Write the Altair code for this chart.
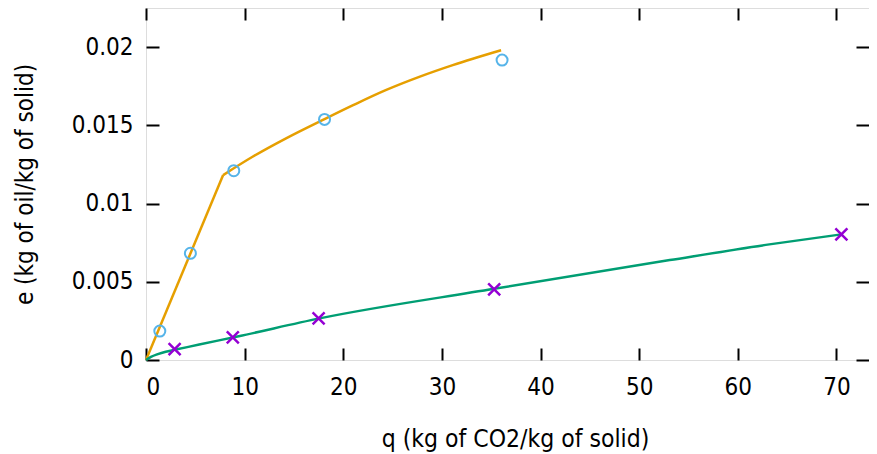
import altair as alt
import pandas as pd

# measured points (blue circles)
q_circ = [1.4, 4.5, 8.9, 18.1, 36.1]
e_circ = [0.00185, 0.00682, 0.0121, 0.01538, 0.01917]
# measured points (purple crosses)
q_cross = [2.9, 8.8, 17.5, 35.3, 70.5]
e_cross = [0.0007, 0.00145, 0.00266, 0.00452, 0.00803]
# model curve (orange): straight part, then curved part
q_orange_lin = [0, 7.82]
e_orange_lin = [0, 0.01182]
q_orange = [7.82, 10.8, 14.2, 18.1, 21.0, 24.3, 27.7, 31.1, 36.0]
e_orange = [0.01182, 0.01299, 0.01417, 0.0154, 0.01629, 0.01725, 0.0181, 0.01885, 0.0198]
# model curve (green)
q_green = [0, 0.5, 1.2, 2.0, 2.9, 5.4, 9.4, 17.6, 35.3, 53.1, 63.2, 70.5]
e_green = [0, 0.0002, 0.00038, 0.00053, 0.00065, 0.00099, 0.00152, 0.00266, 0.00455, 0.00639, 0.00739, 0.00803]

x_ticks = [0, 10, 20, 30, 40, 50, 60, 70]
y_ticks = [0, 0.005, 0.01, 0.015, 0.02]

FONT = "DejaVu Sans Condensed, DejaVu Sans"
FS = 24

xs = alt.Scale(domain=[0, 73.3], nice=False, zero=False)
ys = alt.Scale(domain=[0, 0.0225], nice=False, zero=False)

def tick_axis(orient, off, vals):
    return alt.Axis(orient=orient, offset=off, values=vals, tickSize=12 if orient in ("top", "bottom") else 13,
                    tickWidth=2, tickColor="black", labels=False, domain=False, grid=False, title=None)

main_x = alt.Axis(orient="bottom", values=x_ticks, ticks=False, tickSize=0, domain=False, grid=False,
                  labelFont=FONT, labelFontSize=FS, labelColor="black", labelPadding=15,
                  title="q (kg of CO2/kg of solid)", titleFont=FONT, titleFontSize=24.5,
                  titleFontWeight="normal", titleColor="black", titleX=369, titleY=86,
                  titleBaseline="alphabetic")
main_y = alt.Axis(orient="left", values=y_ticks, format="~g", ticks=False, tickSize=0, domain=False, grid=False,
                  labelFont=FONT, labelFontSize=FS, labelColor="black", labelPadding=13,
                  title="e (kg of oil/kg of solid)", titleFont=FONT, titleFontSize=FS,
                  titleFontWeight="normal", titleColor="black", titleX=-121, titleBaseline="middle")

df_ol = pd.DataFrame({"q": q_orange_lin, "e": e_orange_lin})
df_o = pd.DataFrame({"q": q_orange, "e": e_orange})
df_g = pd.DataFrame({"q": q_green, "e": e_green})
df_c = pd.DataFrame({"q": q_circ, "e": e_circ})
df_x = pd.DataFrame({"q": q_cross, "e": e_cross})

orange_lin = alt.Chart(df_ol).mark_line(color="#e69f00", strokeWidth=2.5).encode(
    x=alt.X("q:Q", scale=xs, axis=main_x),
    y=alt.Y("e:Q", scale=ys, axis=main_y),
)
orange = alt.Chart(df_o).mark_line(color="#e69f00", strokeWidth=2.5, interpolate="monotone").encode(
    x=alt.X("q:Q", scale=xs, axis=None),
    y=alt.Y("e:Q", scale=ys, axis=None),
)
green = alt.Chart(df_g).mark_line(color="#009e73", strokeWidth=2.5, interpolate="monotone").encode(
    x=alt.X("q:Q", scale=xs, axis=tick_axis("bottom", -12, x_ticks)),
    y=alt.Y("e:Q", scale=ys, axis=tick_axis("left", -13, y_ticks)),
)
circles = alt.Chart(df_c).mark_point(shape="circle", filled=False, size=121, strokeWidth=2,
                                     color="#56b4e9", opacity=1).encode(
    x=alt.X("q:Q", scale=xs, axis=tick_axis("top", -12, x_ticks)),
    y=alt.Y("e:Q", scale=ys, axis=tick_axis("right", -13, y_ticks)),
)
crosses = alt.Chart(df_x).mark_point(shape="M-1,-1L1,1M1,-1L-1,1", filled=False, size=144, strokeWidth=2.5,
                                     color="#9400d3", opacity=1).encode(
    x=alt.X("q:Q", scale=xs, axis=None),
    y=alt.Y("e:Q", scale=ys, axis=None),
)

chart = alt.layer(orange_lin, orange, green, circles, crosses).resolve_axis(
    x="independent", y="independent"
).properties(
    width=723, height=352,
    autosize=alt.AutoSizeParams(type="none"),
    padding={"left": 138, "top": 0, "right": 0, "bottom": 92},
).configure_view(stroke="black", strokeWidth=2).configure(background="white")

chart.save("out.html", embed_options={"renderer": "svg", "actions": False})
